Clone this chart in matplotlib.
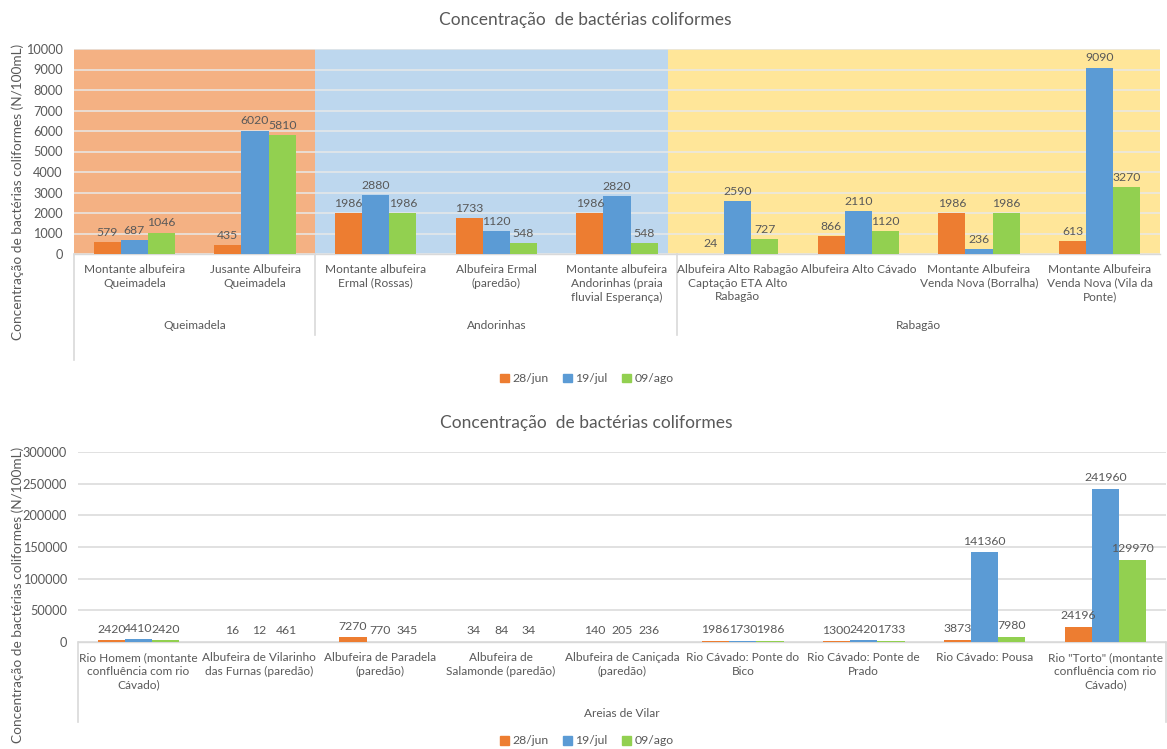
import matplotlib
matplotlib.use("Agg")
import matplotlib.pyplot as plt
from matplotlib.patches import Patch
from matplotlib.transforms import ScaledTranslation
import numpy as np

plt.rcParams['font.family'] = ['Lato', 'DejaVu Sans']

TXT = '#595959'
C_JUN, C_JUL, C_AGO = '#ED7D31', '#5B9BD5', '#92D050'
series_names = ['28/jun', '19/jul', '09/ago']

# ---- Upper chart: reservoirs grouped by system ----
top_sites = [
    "Montante albufeira\nQueimadela",
    "Jusante Albufeira\nQueimadela",
    "Montante albufeira\nErmal (Rossas)",
    "Albufeira Ermal\n(paredão)",
    "Montante albufeira\nAndorinhas (praia\nfluvial Esperança)",
    "Albufeira Alto Rabagão\nCaptação ETA Alto\nRabagão",
    "Albufeira Alto Cávado",
    "Montante Albufeira\nVenda Nova (Borralha)",
    "Montante Albufeira\nVenda Nova (Vila da\nPonte)",
]
top_jun = [579, 435, 1986, 1733, 1986, 24, 866, 1986, 613]
top_jul = [687, 6020, 2880, 1120, 2820, 2590, 2110, 236, 9090]
top_ago = [1046, 5810, 1986, 548, 548, 727, 1120, 1986, 3270]
top_groups = ["Queimadela", "Andorinhas", "Rabagão"]
top_group_sizes = [2, 3, 4]
top_group_colors = ['#F4B183', '#BDD7EE', '#FFE699']
top_yticks = list(range(0, 10001, 1000))

# ---- Lower chart: river and reservoir sites ----
bot_sites = [
    "Rio Homem (montante\nconfluência com rio\nCávado)",
    "Albufeira de Vilarinho\ndas Furnas (paredão)",
    "Albufeira de Paradela\n(paredão)",
    "Albufeira de\nSalamonde (paredão)",
    "Albufeira de Caniçada\n(paredão)",
    "Rio Cávado: Ponte do\nBico",
    "Rio Cávado: Ponte de\nPrado",
    "Rio Cávado: Pousa",
    "Rio \"Torto\" (montante\nconfluência com rio\nCávado)",
]
bot_jun = [2420, 16, 7270, 34, 140, 1986, 1300, 3873, 24196]
bot_jul = [4410, 12, 770, 84, 205, 1730, 2420, 141360, 241960]
bot_ago = [2420, 461, 345, 34, 236, 1986, 1733, 7980, 129970]
bot_group = "Areias de Vilar"
bot_yticks = list(range(0, 300001, 50000))

YLABEL = "Concentração de bactérias coliformes (N/100mL)"
TITLE = "Concentração  de bactérias coliformes"

FS = 8.8       # general text size
FS_CAT = 8.6   # category labels

W, H = 1167, 749
fig = plt.figure(figsize=(W / 100, H / 100), dpi=100)


def fx(px):
    return px / W


def fy(py):
    return 1 - py / H


def shifted(ax, dy_px):
    return ax.get_xaxis_transform() + ScaledTranslation(0, -dy_px / 100, fig.dpi_scale_trans)


def draw_bars(ax, jun, jul, ago, label_off):
    n = len(jun)
    x = np.arange(n)
    w = 0.225
    for vals, off, col in zip([jun, jul, ago], [-w, 0, w], [C_JUN, C_JUL, C_AGO]):
        bars = ax.bar(x + off, vals, width=w, color=col, zorder=3)
        for b, v in zip(bars, vals):
            ax.annotate(f"{v}", (b.get_x() + b.get_width() / 2, v),
                        xytext=(0, label_off), textcoords='offset points',
                        ha='center', va='bottom', fontsize=FS, color=TXT, zorder=4)
    ax.set_xlim(-0.5, n - 0.5)


def style_axes(ax, yticks, ymax, grid_color):
    ax.set_ylim(0, ymax)
    ax.set_yticks(yticks)
    ax.set_yticklabels([str(t) for t in yticks])
    ax.tick_params(axis='y', length=0, pad=8, labelsize=FS + 0.4, labelcolor=TXT)
    ax.tick_params(axis='x', length=0, bottom=False, labelbottom=False)
    ax.grid(axis='y', color=grid_color, lw=1.1, zorder=1)
    ax.set_axisbelow(True)
    for s in ['top', 'right', 'left']:
        ax.spines[s].set_visible(False)
    ax.spines['bottom'].set_color('#D9D9D9')
    ax.spines['bottom'].set_linewidth(1)
    ax.set_facecolor('none')


def draw_xlabels(ax, sites):
    for i, s in enumerate(sites):
        ax.text(i, 0, s, transform=shifted(ax, 10), ha='center', va='top',
                fontsize=FS_CAT, color=TXT, linespacing=1.3)


def vline_below(ax, xdata, length_px):
    frac = length_px / (ax.get_position().height * H)
    ax.plot([xdata, xdata], [0, -frac], transform=ax.get_xaxis_transform(),
            color='#D9D9D9', lw=1.2, clip_on=False, zorder=2)


# ---------------- upper chart ----------------
ax1 = fig.add_axes([fx(74), fy(254), fx(1160) - fx(74), fy(49) - fy(254)])
style_axes(ax1, top_yticks, 10000, '#E8E8E8')
edges = [-0.5, 1.5, 4.42, 8.5]
for (a, b), col in zip(zip(edges[:-1], edges[1:]), top_group_colors):
    ax1.axvspan(a, b, color=col, zorder=0, lw=0)
draw_bars(ax1, top_jun, top_jul, top_ago, 3)
draw_xlabels(ax1, top_sites)
vline_below(ax1, -0.5, 106)
vline_below(ax1, 1.5, 81)
vline_below(ax1, 4.5, 81)
start = 0
for g, n in zip(top_groups, top_group_sizes):
    c = start + (n - 1) / 2
    ax1.text(c, 0, g, transform=shifted(ax1, 66), ha='center', va='top',
             fontsize=FS_CAT, color=TXT)
    start += n
fig.text(fx(585), fy(20), TITLE, ha='center', va='center', fontsize=12.5, color=TXT)
fig.text(fx(18), fy(192), YLABEL, rotation=90, ha='center', va='center',
         fontsize=9.8, color=TXT)

# ---------------- lower chart ----------------
ax2 = fig.add_axes([fx(78), fy(642), fx(1166) - fx(78), fy(452) - fy(642)])
style_axes(ax2, bot_yticks, 300000, '#D9D9D9')
draw_bars(ax2, bot_jun, bot_jul, bot_ago, 4)
draw_xlabels(ax2, bot_sites)
vline_below(ax2, -0.5, 80)
vline_below(ax2, 8.5, 80)
ax2.text(4, 0, bot_group, transform=shifted(ax2, 66), ha='center', va='top',
         fontsize=FS_CAT, color=TXT)
fig.text(fx(586), fy(423), TITLE, ha='center', va='center', fontsize=12.5, color=TXT)
fig.text(fx(18), fy(595), YLABEL, rotation=90, ha='center', va='center',
         fontsize=9.8, color=TXT)

# ---------------- legends ----------------
handles = [Patch(color=c) for c in (C_JUN, C_JUL, C_AGO)]
for cy in (379, 741):
    fig.legend(handles, series_names, loc='center', bbox_to_anchor=(fx(587), fy(cy)),
               ncol=3, frameon=False, fontsize=FS, labelcolor=TXT,
               handlelength=0.7, handleheight=0.7, handletextpad=0.3, columnspacing=1.2)

fig.savefig("out.png", dpi=100)
